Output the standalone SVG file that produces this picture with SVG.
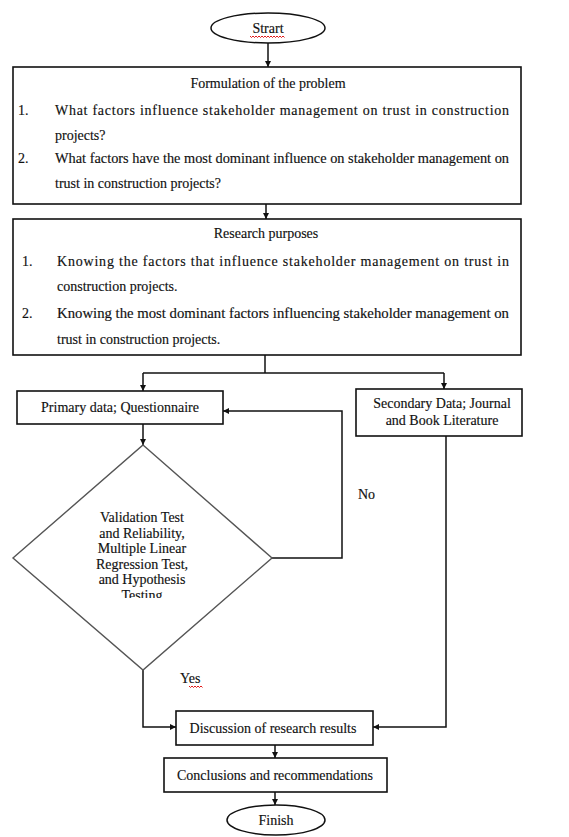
<svg xmlns="http://www.w3.org/2000/svg" width="569" height="837" viewBox="0 0 569 837">
<style>
text{font-family:"Liberation Serif","Times New Roman",serif;font-size:14px;fill:#111;stroke:#111;stroke-width:0.15}
.c{text-anchor:middle}
.box{fill:#fff;stroke:#111;stroke-width:1.6}
.dia{fill:#fff;stroke:#555;stroke-width:1.4}
.ln{fill:none;stroke:#111;stroke-width:1.5}
.sq{fill:none;stroke:#d00;stroke-width:0.9}
</style>
<defs>
<marker id="ah" viewBox="0 0 10 10" refX="10" refY="5" markerWidth="6" markerHeight="6" orient="auto" markerUnits="userSpaceOnUse">
<path d="M0,0 L10,5 L0,10 z" fill="#111"/>
</marker>
<clipPath id="dclip"><rect x="60" y="500" width="170" height="98"/></clipPath>
</defs>

<g id="connectors">
<line class="ln" x1="268" y1="43" x2="268" y2="67" marker-end="url(#ah)"/>
<line class="ln" x1="266" y1="204" x2="266" y2="219" marker-end="url(#ah)"/>
<polyline class="ln" points="265,355 265,373"/>
<polyline class="ln" points="143,373 444,373"/>
<line class="ln" x1="143" y1="373" x2="143" y2="391" marker-end="url(#ah)"/>
<line class="ln" x1="444" y1="373" x2="444" y2="389" marker-end="url(#ah)"/>
<line class="ln" x1="143" y1="424" x2="143" y2="445" marker-end="url(#ah)"/>
<polyline class="ln" points="272,558 342,558 342,411 223,411" marker-end="url(#ah)"/>
<polyline class="ln" points="143,670 143,727 176,727" marker-end="url(#ah)"/>
<polyline class="ln" points="446,436 446,727 373,727" marker-end="url(#ah)"/>
<line class="ln" x1="275" y1="745" x2="275" y2="758" marker-end="url(#ah)"/>
<line class="ln" x1="275" y1="792" x2="275" y2="805" marker-end="url(#ah)"/>
<text x="358" y="499">No</text>
<text x="180" y="683">Yes</text>
<path class="sq" d="M189,686 l1.5,1.5 l1.5,-1.5 l1.5,1.5 l1.5,-1.5 l1.5,1.5 l1.5,-1.5 l1.5,1.5 l1.5,-1.5 l1.5,1.5"/>
</g>

<g id="start">
<ellipse cx="268" cy="28" rx="57" ry="15" fill="#fff" stroke="#111" stroke-width="1.5"/>
<text class="c" x="268" y="33">Strart</text>
<path class="sq" d="M250,36 l1.5,1.5 l1.5,-1.5 l1.5,1.5 l1.5,-1.5 l1.5,1.5 l1.5,-1.5 l1.5,1.5 l1.5,-1.5 l1.5,1.5 l1.5,-1.5 l1.5,1.5 l1.5,-1.5 l1.5,1.5 l1.5,-1.5 l1.5,1.5 l1.5,-1.5 l1.5,1.5 l1.5,-1.5 l1.5,1.5 l1.5,-1.5 l1.5,1.5 l1.5,-1.5 l1.5,1.5"/>
</g>

<g id="problem">
<rect class="box" x="13" y="67" width="508" height="137"/>
<text class="c" x="268" y="88">Formulation of the problem</text>
<text x="18" y="115">1.</text>
<text x="55" y="115" textLength="454" lengthAdjust="spacing">What factors influence stakeholder management on trust in construction</text>
<text x="55" y="140">projects?</text>
<text x="18" y="163">2.</text>
<text x="55" y="163" textLength="454" lengthAdjust="spacingAndGlyphs">What factors have the most dominant influence on stakeholder management on</text>
<text x="55" y="188">trust in construction projects?</text>
</g>

<g id="purposes">
<rect class="box" x="13" y="219" width="508" height="136"/>
<text class="c" x="266" y="238">Research purposes</text>
<text x="22" y="266">1.</text>
<text x="57" y="266" textLength="452" lengthAdjust="spacing">Knowing the factors that influence stakeholder management on trust in</text>
<text x="57" y="291">construction projects.</text>
<text x="22" y="318">2.</text>
<text x="57" y="318" textLength="452" lengthAdjust="spacingAndGlyphs">Knowing the most dominant factors influencing stakeholder management on</text>
<text x="57" y="344">trust in construction projects.</text>
</g>

<g id="primary">
<rect class="box" x="17" y="391" width="206" height="33"/>
<text class="c" x="120" y="412">Primary data; Questionnaire</text>
</g>

<g id="secondary">
<rect class="box" x="356" y="389" width="166" height="47"/>
<text class="c" x="442" y="408">Secondary Data; Journal</text>
<text class="c" x="442" y="425">and Book Literature</text>
</g>

<g id="decision">
<polygon class="dia" points="143,445 272,558 143,670 13,558"/>
<g clip-path="url(#dclip)">
<text class="c" x="142" y="522">Validation Test</text>
<text class="c" x="142" y="538">and Reliability,</text>
<text class="c" x="142" y="553">Multiple Linear</text>
<text class="c" x="142" y="569">Regression Test,</text>
<text class="c" x="142" y="584">and Hypothesis</text>
<text class="c" x="142" y="600">Testing</text>
</g>
</g>

<g id="discussion">
<rect class="box" x="176" y="711" width="197" height="34"/>
<text class="c" x="273" y="733">Discussion of research results</text>
</g>

<g id="conclusions">
<rect class="box" x="164" y="758" width="223" height="34"/>
<text class="c" x="275" y="780">Conclusions and recommendations</text>
</g>

<g id="finish">
<ellipse cx="276" cy="820" rx="49" ry="15" fill="#fff" stroke="#111" stroke-width="1.5"/>
<text class="c" x="276" y="825">Finish</text>
</g>
</svg>
